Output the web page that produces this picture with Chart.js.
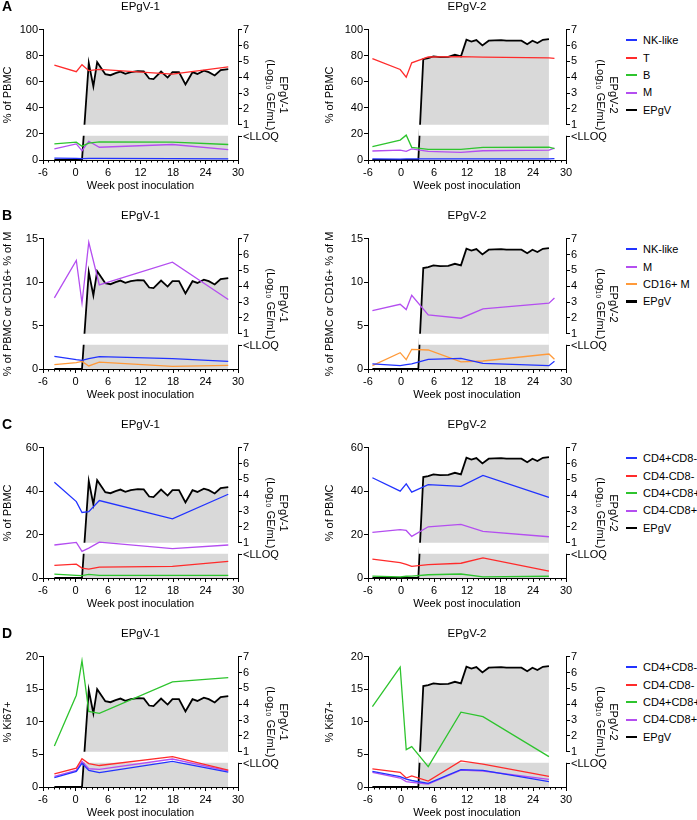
<!DOCTYPE html>
<html>
<head>
<meta charset="utf-8">
<script src="https://cdn.jsdelivr.net/npm/chart.js@4.4.1/dist/chart.umd.min.js"></script>
<style>
  body { margin: 0; background: #fff; font-family: 'Liberation Sans', Arial, sans-serif; color: #000; }
  #fig { position: relative; width: 697px; height: 820px; overflow: hidden; }
  #fig canvas { position: absolute; }
  .letter { position: absolute; left: 2px; font-weight: bold; font-size: 14px; line-height: 16px; }
  .legend { position: absolute; left: 626px; font-size: 11px; }
  .legend div { height: 17.4px; line-height: 17.4px; white-space: nowrap; }
  .legend .sw { display: inline-block; width: 11px; vertical-align: middle; margin-right: 6px; position: relative; top: -1px; }
</style>
</head>
<body>
<div id="fig"></div>
<script>
// ---- data (weeks post inoculation) ----
// sampling weeks of the cell subset series
const weeksV1 = [-3.9, 0.15, 1.2, 2.45, 4.4, 17.9, 28.2];
const weeksV2 = [-5.2, -0.15, 0.95, 1.95, 4.95, 10.9, 14.9, 26.9, 27.9];

// EPgV viral load, log10 GE/mL (0 = below LLOQ)
const epgv1Weeks = [-3.9, 0.15, 1.2, 2.45, 3.3, 4.0, 5.5, 6.45, 7.4, 8.3, 9.2, 10.2, 11.5, 12.6, 13.6, 14.4,
                    15.8, 17.0, 17.9, 19.1, 20.3, 21.6, 22.5, 23.7, 24.6, 25.7, 26.8, 28.2];
const epgv1Load  = [0, 0, 0, 4.9, 3.42, 4.95, 4.19, 4.13, 4.26, 4.36, 4.22, 4.33, 4.39, 4.37, 3.92, 3.88,
                    4.36, 3.98, 4.33, 4.33, 3.55, 4.32, 4.21, 4.42, 4.32, 4.11, 4.45, 4.52];
const epgv2Weeks = [-5.2, -0.15, 0.95, 1.95, 3.15, 4.05, 4.95, 5.9, 7.1, 8.6, 9.8, 10.9, 11.9, 12.8, 13.7,
                    14.8, 15.95, 17.0, 18.2, 19.15, 20.4, 21.9, 22.95, 23.9, 24.8, 25.8, 26.9];
const epgv2Load  = [0, 0, 0, 0, 0, 5.15, 5.21, 5.32, 5.27, 5.29, 5.42, 5.32, 6.37, 6.26, 6.35,
                    6.01, 6.31, 6.33, 6.35, 6.31, 6.31, 6.31, 6.09, 6.31, 6.16, 6.37, 6.41];

// A: % of PBMC
const lineageLabels = ['NK-like', 'T', 'B', 'M'];
const nkPbmcV1 = [1.5, 1.3, 1.1, 1.3, 1.2, 1.0, 0.8];
const tPbmcV1  = [72.9, 67.8, 73.2, 68.6, 69.6, 66.0, 71.6];
const bPbmcV1  = [12.4, 13.7, 10.6, 12.9, 13.9, 13.7, 11.9];
const mPbmcV1  = [8.5, 12.4, 7.2, 14.4, 9.8, 11.9, 8.0];
const nkPbmcV2 = [0.8, 0.7, 0.8, 0.8, 0.8, 0.9, 0.8, 0.8, 1.0];
const tPbmcV2  = [77.9, 69.5, 63.6, 74.6, 79.1, 79.4, 79.0, 78.4, 78.1];
const bPbmcV2  = [10.2, 15.3, 19.1, 9.7, 8.1, 8.1, 9.7, 9.9, 8.65];
const mPbmcV2  = [6.9, 7.6, 6.6, 8.5, 6.6, 5.85, 7.1, 7.6, 9.2];

// B: % of PBMC or CD16+ % of M
const innateLabels = ['NK-like', 'M', 'CD16+ M'];
const nkInnV1   = [1.46, 1.08, 1.0, 1.19, 1.42, 1.19, 0.88];
const mInnV1    = [8.2, 12.5, 7.6, 14.6, 9.7, 12.3, 8.0];
const cd16InnV1 = [0.5, 0.73, 0.88, 0.35, 0.8, 0.31, 0.42];
const nkInnV2   = [0.58, 0.38, 0.5, 0.58, 1.12, 1.23, 0.65, 0.38, 0.88];
const mInnV2    = [6.73, 7.46, 6.85, 8.5, 6.23, 5.85, 6.92, 7.58, 8.19];
const cd16InnV2 = [0.38, 1.88, 1.08, 2.27, 2.19, 0.81, 0.92, 1.73, 1.12];

// C: T cell subsets, % of PBMC
const tcellLabels = ['CD4+CD8-', 'CD4-CD8-', 'CD4+CD8+', 'CD4-CD8+'];
const cd4pV1  = [44.1, 35.2, 30.2, 30.6, 35.7, 27.3, 38.6];
const dnV1    = [5.8, 6.4, 4.6, 4.1, 5.05, 5.4, 7.7];
const dpV1    = [1.8, 1.2, 1.1, 1.7, 1.2, 1.2, 1.2];
const cd8pV1  = [15.2, 16.4, 12.3, 13.8, 16.5, 13.5, 15.2];
const cd4pV2  = [46.2, 40.0, 43.4, 39.6, 43.0, 42.2, 47.3, 37.2, null];
const dnV2    = [8.7, 7.1, 6.3, 5.4, 6.2, 6.8, 9.3, 3.2, null];
const dpV2    = [0.9, 0.5, 0.8, 0.9, 1.5, 1.85, 0.5, 0.8, null];
const cd8pV2  = [21.0, 22.3, 21.9, 19.2, 23.6, 24.7, 21.5, 19.0, null];

// D: % Ki67+ of T cell subsets
const ki67Cd4pV1 = [1.44, 2.4, 3.64, 2.56, 2.2, 3.95, 2.3];
const ki67DnV1   = [2.0, 2.9, 4.36, 3.6, 3.3, 4.67, 2.6];
const ki67DpV1   = [6.3, 14.1, 19.4, 11.6, 11.3, 16.15, 16.8];
const ki67Cd8pV1 = [1.64, 2.56, 3.95, 2.8, 2.7, 4.3, 2.46];
const ki67Cd4pV2 = [2.4, 1.6, 1.2, 1.0, 0.56, 2.67, 2.56, 0.82, null];
const ki67DnV2   = [2.77, 2.26, 1.38, 1.7, 0.92, 4.0, 3.5, 1.64, null];
const ki67DpV2   = [12.36, 18.4, 5.74, 6.2, 3.13, 11.5, 10.8, 4.67, null];
const ki67Cd8pV2 = [2.26, 1.38, 0.82, 0.72, 0.46, 2.6, 2.46, 1.18, null];

// ---- styling ----
const BLUE = '#2233ff', RED = '#ff2b2b', GREEN = '#2ec42e', PURPLE = '#b44ef0', ORANGE = '#ff9a3a';
const GRAY = '#d9d9d9';
const lineageColors = [BLUE, RED, GREEN, PURPLE];
const innateColors = [BLUE, PURPLE, ORANGE];
const tcellColors = [BLUE, RED, GREEN, PURPLE];

// broken right axis: 1..7 on top, "<LLOQ" segment below
const Y2_MIN = -1.23, Y2_MAX = 7, GAP_BOTTOM = 0.3, LLOQ_TICK = 0.24;
const X_MIN = -6, X_MAX = 30;

const ROW_TOPS = [0, 209, 418, 627];
const PLOT_TOP = 30, PLOT_H = 130, X_AXIS_H = 33;
const SIDES = {
  left:  { left: 0,   width: 290, plotLeft: 43,  plotRight: 238 },
  right: { left: 322, width: 298, plotLeft: 46,  plotRight: 244 }
};

Chart.defaults.font.family = "'Liberation Sans', Arial, sans-serif";
Chart.defaults.font.size = 11;
Chart.defaults.color = '#000';

// minor week ticks and the broken right axis line
const axisExtras = {
  id: 'axisExtras',
  afterDraw(chart) {
    const { ctx, chartArea, scales: { x, y2 } } = chart;
    ctx.save();
    ctx.strokeStyle = '#000';
    ctx.lineWidth = 1;
    ctx.beginPath();
    for (let w = X_MIN; w <= X_MAX; w++) {
      if (w % 6 === 0) continue;
      const px = Math.round(x.getPixelForValue(w)) + 0.5;
      ctx.moveTo(px, chartArea.bottom);
      ctx.lineTo(px, chartArea.bottom + 2.5);
    }
    const ax = Math.round(y2.left) + 0.5;
    ctx.moveTo(ax, y2.getPixelForValue(Y2_MAX));
    ctx.lineTo(ax, y2.getPixelForValue(1));
    ctx.moveTo(ax, y2.getPixelForValue(GAP_BOTTOM));
    ctx.lineTo(ax, chartArea.bottom + 0.5);
    ctx.stroke();
    ctx.restore();
  }
};

function makePanel(p) {
  const side = SIDES[p.side];
  const fig = document.getElementById('fig');
  const canvas = document.createElement('canvas');
  const height = PLOT_TOP + PLOT_H + X_AXIS_H;
  canvas.width = side.width;
  canvas.height = height;
  canvas.style.left = side.left + 'px';
  canvas.style.top = ROW_TOPS[p.row] + 'px';
  fig.appendChild(canvas);

  const datasets = p.series.map((vals, i) => ({
    label: p.labels[i],
    data: p.weeks.map((w, j) => ({ x: w, y: vals[j] })),
    borderColor: p.colors[i],
    borderWidth: 1.3,
    yAxisID: 'y',
    order: 0
  }));

  // white band hiding the axis break
  const firstUp = p.epgvLoad.findIndex(v => v > 0);
  datasets.push({
    label: 'break',
    data: [{ x: p.epgvWeeks[firstUp - 1], y: 1 }, { x: p.epgvWeeks[p.epgvWeeks.length - 1], y: 1 }],
    borderColor: 'rgba(0,0,0,0)',
    borderWidth: 0,
    backgroundColor: '#fff',
    fill: { value: GAP_BOTTOM },
    yAxisID: 'y2',
    order: 1
  });

  datasets.push({
    label: 'EPgV',
    data: p.epgvWeeks.map((w, j) => ({ x: w, y: p.epgvLoad[j] > 0 ? p.epgvLoad[j] : Y2_MIN })),
    borderColor: '#000',
    borderWidth: 1.8,
    backgroundColor: GRAY,
    fill: 'start',
    yAxisID: 'y2',
    order: 2
  });

  new Chart(canvas, {
    type: 'line',
    data: { datasets },
    options: {
      responsive: false,
      animation: false,
      layout: { padding: 0 },
      elements: { point: { radius: 0 }, line: { tension: 0 } },
      plugins: {
        legend: { display: false },
        tooltip: { enabled: false },
        title: {
          display: true, text: p.title, fullSize: false, color: '#000',
          font: { size: 11.5, weight: 'normal' }, padding: { top: 0, bottom: 16 }
        }
      },
      scales: {
        x: {
          type: 'linear', min: X_MIN, max: X_MAX,
          ticks: { stepSize: 6, padding: 2, maxRotation: 0, color: '#000' },
          grid: { drawOnChartArea: false, tickLength: 4, color: '#000' },
          border: { color: '#000', width: 1 },
          title: { display: true, text: 'Week post inoculation', color: '#000', padding: 0 },
          afterFit: s => { s.height = X_AXIS_H; }
        },
        y: {
          type: 'linear', position: 'left', min: 0, max: p.yMax,
          ticks: { stepSize: p.yStep, padding: 1, color: '#000' },
          grid: { drawOnChartArea: false, tickLength: 4, color: '#000' },
          border: { color: '#000', width: 1 },
          title: { display: true, text: p.yTitle, color: '#000', padding: { top: 1, bottom: 0 } },
          afterFit: s => { s.width = side.plotLeft; }
        },
        y2: {
          type: 'linear', position: 'right', min: Y2_MIN, max: Y2_MAX,
          afterBuildTicks: s => { s.ticks = [LLOQ_TICK, 1, 2, 3, 4, 5, 6, 7].map(v => ({ value: v })); },
          ticks: {
            padding: 1, color: '#000', autoSkip: false,
            callback: v => (v === LLOQ_TICK ? '<LLOQ' : v)
          },
          grid: { drawOnChartArea: false, tickLength: 4, color: '#000' },
          border: { display: false },
          title: { display: true, text: [p.title, '(Log\u2081\u2080 GE/mL)'], color: '#000', padding: 0 },
          afterFit: s => { s.width = side.width - side.plotRight; }
        }
      }
    },
    plugins: [axisExtras]
  });
}

function makeLegend(row, labels, colors) {
  const box = document.createElement('div');
  box.className = 'legend';
  box.style.top = (ROW_TOPS[row] + 41 - 8.7) + 'px';
  labels.concat(['EPgV']).forEach((lab, i) => {
    const item = document.createElement('div');
    const sw = document.createElement('span');
    sw.className = 'sw';
    sw.style.height = i < labels.length ? '2px' : '2.5px';
    sw.style.background = i < labels.length ? colors[i] : '#000';
    item.appendChild(sw);
    item.appendChild(document.createTextNode(lab));
    box.appendChild(item);
  });
  document.getElementById('fig').appendChild(box);
}

function makeLetter(row, text) {
  const d = document.createElement('div');
  d.className = 'letter';
  d.style.top = (ROW_TOPS[row] - 2) + 'px';
  d.textContent = text;
  document.getElementById('fig').appendChild(d);
}

const v1 = { side: 'left', title: 'EPgV-1', weeks: weeksV1, epgvWeeks: epgv1Weeks, epgvLoad: epgv1Load };
const v2 = { side: 'right', title: 'EPgV-2', weeks: weeksV2, epgvWeeks: epgv2Weeks, epgvLoad: epgv2Load };

const rows = [
  { letter: 'A', yTitle: '% of PBMC', yMax: 100, yStep: 20, labels: lineageLabels, colors: lineageColors,
    s1: [nkPbmcV1, tPbmcV1, bPbmcV1, mPbmcV1], s2: [nkPbmcV2, tPbmcV2, bPbmcV2, mPbmcV2] },
  { letter: 'B', yTitle: '% of PBMC or CD16+ % of M', yMax: 15, yStep: 5, labels: innateLabels, colors: innateColors,
    s1: [nkInnV1, mInnV1, cd16InnV1], s2: [nkInnV2, mInnV2, cd16InnV2] },
  { letter: 'C', yTitle: '% of PBMC', yMax: 60, yStep: 20, labels: tcellLabels, colors: tcellColors,
    s1: [cd4pV1, dnV1, dpV1, cd8pV1], s2: [cd4pV2, dnV2, dpV2, cd8pV2] },
  { letter: 'D', yTitle: '% Ki67+', yMax: 20, yStep: 5, labels: tcellLabels, colors: tcellColors,
    s1: [ki67Cd4pV1, ki67DnV1, ki67DpV1, ki67Cd8pV1], s2: [ki67Cd4pV2, ki67DnV2, ki67DpV2, ki67Cd8pV2] }
];

rows.forEach((r, i) => {
  const common = { row: i, yTitle: r.yTitle, yMax: r.yMax, yStep: r.yStep, labels: r.labels, colors: r.colors };
  makePanel(Object.assign({}, v1, common, { series: r.s1 }));
  makePanel(Object.assign({}, v2, common, { series: r.s2 }));
  makeLegend(i, r.labels, r.colors);
  makeLetter(i, r.letter);
});
</script>
</body>
</html>
